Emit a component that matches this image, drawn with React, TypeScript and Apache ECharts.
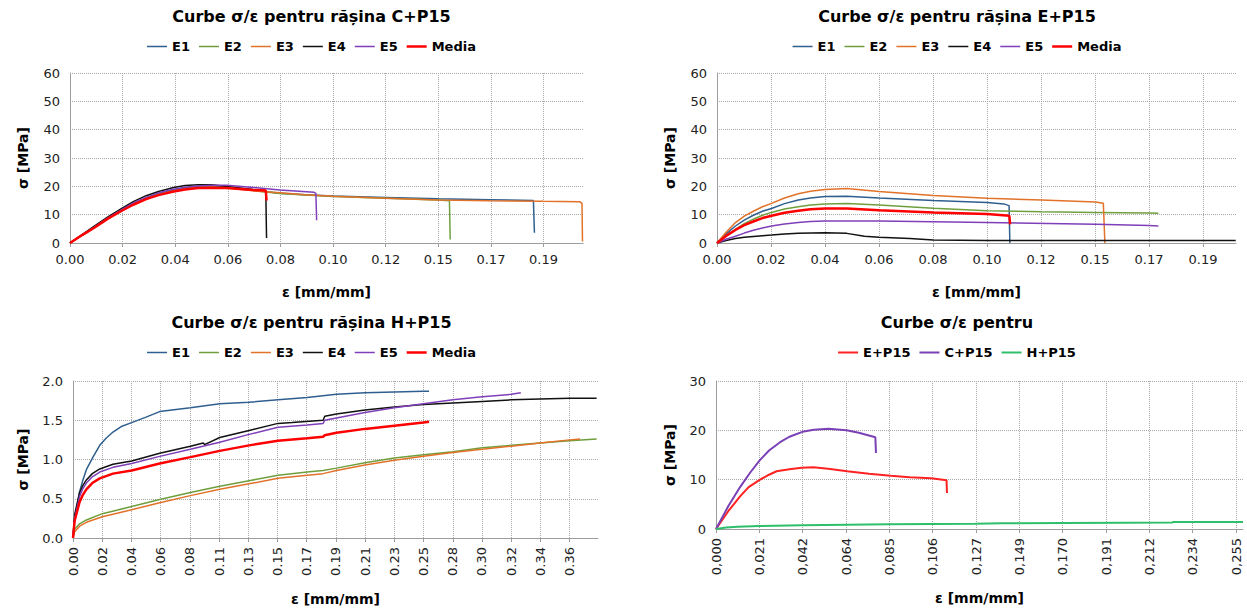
import React, { useEffect, useRef } from "react";
import * as echarts from "echarts";

type Pt = [number, number];

// ---------- Panel 1: C+P15 ----------
const cE1: Pt[] = [[0,0],[0.0048,2.9],[0.0096,5.6],[0.015,8.8],[0.0203,11.6],[0.025,13.9],[0.0301,15.9],[0.035,17.4],[0.041,18.8],[0.0455,19.5],[0.0506,19.9],[0.056,20.0],[0.062,19.7],[0.0725,18.6],[0.083,17.6],[0.093,17.0],[0.104,16.6],[0.125,16.1],[0.1456,15.6],[0.166,15.3],[0.1832,15.0],[0.1836,3.6]];
const cE2: Pt[] = [[0,0],[0.0048,2.8],[0.0096,5.5],[0.015,8.7],[0.0203,11.5],[0.025,13.8],[0.0301,15.8],[0.035,17.2],[0.041,18.6],[0.0455,19.3],[0.0506,19.7],[0.056,19.8],[0.062,19.6],[0.0725,18.5],[0.083,17.5],[0.093,16.9],[0.104,16.4],[0.125,15.8],[0.1456,15.2],[0.1500,14.9],[0.1503,1.2]];
const cE3: Pt[] = [[0,0],[0.0048,2.8],[0.0096,5.4],[0.015,8.6],[0.0203,11.4],[0.025,13.6],[0.0301,15.6],[0.035,17.0],[0.041,18.4],[0.0455,19.1],[0.0506,19.6],[0.056,19.7],[0.062,19.4],[0.0725,18.4],[0.0832,17.7],[0.093,17.0],[0.104,16.5],[0.125,15.8],[0.1456,15.2],[0.166,14.9],[0.187,14.7],[0.2015,14.6],[0.2024,14.0],[0.2026,0.5]];
const cE4: Pt[] = [[0,0],[0.0048,3.0],[0.0096,6.0],[0.015,9.2],[0.0203,12.1],[0.025,14.6],[0.0301,16.7],[0.035,18.2],[0.041,19.6],[0.0455,20.3],[0.0506,20.6],[0.056,20.6],[0.062,19.9],[0.0725,18.9],[0.0774,18.5],[0.0777,1.8]];
const cE5: Pt[] = [[0,0],[0.0048,2.9],[0.0096,5.6],[0.015,8.9],[0.0203,11.7],[0.025,14.1],[0.0301,16.1],[0.035,17.7],[0.041,19.0],[0.0455,19.7],[0.0506,20.1],[0.056,20.4],[0.062,20.4],[0.0725,19.6],[0.083,18.7],[0.0965,17.9],[0.0972,17.5],[0.0975,8.0]];
const cMedia: Pt[] = [[0,0],[0.0048,2.8],[0.0096,5.4],[0.015,8.6],[0.0203,11.3],[0.025,13.5],[0.0301,15.5],[0.035,16.9],[0.041,18.2],[0.0455,18.9],[0.0506,19.4],[0.056,19.5],[0.062,19.4],[0.0725,18.7],[0.0774,18.5],[0.0777,15.0]];

// ---------- Panel 2: E+P15 ----------
const eE1: Pt[] = [[0,0],[0.0035,3.2],[0.0071,6.0],[0.0105,8.1],[0.014,9.8],[0.0175,11.2],[0.021,12.2],[0.026,13.9],[0.0313,15.2],[0.036,15.9],[0.0416,16.4],[0.050,16.5],[0.0624,15.9],[0.0833,15.0],[0.104,14.3],[0.1105,13.8],[0.1125,13.2],[0.1128,0]];
const eE2: Pt[] = [[0,0],[0.0035,2.6],[0.0071,4.8],[0.0105,6.8],[0.014,8.4],[0.0175,9.8],[0.021,10.8],[0.026,12.0],[0.0313,12.8],[0.036,13.4],[0.0416,13.8],[0.050,13.9],[0.0624,13.4],[0.0833,12.3],[0.104,11.4],[0.125,11.0],[0.1458,10.8],[0.1665,10.6],[0.170,10.5]];
const eE3: Pt[] = [[0,0],[0.0035,3.8],[0.0071,7.2],[0.0105,9.5],[0.014,11.2],[0.0175,12.8],[0.021,14.0],[0.026,15.9],[0.0313,17.4],[0.036,18.3],[0.0416,18.9],[0.050,19.2],[0.0624,18.2],[0.0833,16.8],[0.104,15.8],[0.125,15.2],[0.1458,14.5],[0.1488,14.0],[0.1494,0]];
const eE4: Pt[] = [[0,0],[0.0035,0.9],[0.0071,1.6],[0.0105,2.0],[0.014,2.3],[0.0175,2.6],[0.021,2.8],[0.026,3.2],[0.0313,3.4],[0.0416,3.6],[0.050,3.4],[0.0568,2.4],[0.0624,2.0],[0.0743,1.6],[0.0833,1.1],[0.104,0.9],[0.1458,0.9],[0.1998,0.9]];
const eE5: Pt[] = [[0,0],[0.0035,1.3],[0.0071,2.4],[0.0105,3.5],[0.014,4.5],[0.0175,5.3],[0.021,6.0],[0.026,6.7],[0.0313,7.2],[0.036,7.6],[0.0416,7.8],[0.0624,7.8],[0.104,7.2],[0.1458,6.6],[0.1665,6.2],[0.170,6.0]];
const eMedia: Pt[] = [[0,0],[0.0035,2.5],[0.0071,4.6],[0.0105,6.3],[0.014,7.6],[0.0175,8.8],[0.021,9.6],[0.026,10.7],[0.0313,11.4],[0.036,11.9],[0.0416,12.2],[0.050,12.2],[0.0624,11.6],[0.0833,10.8],[0.104,10.2],[0.1126,9.6],[0.1129,6.6]];

// ---------- Panel 3: H+P15 ----------
const hE1: Pt[] = [[0,0],[0.0008,0.2],[0.0024,0.36],[0.0048,0.59],[0.0072,0.74],[0.0097,0.87],[0.0145,1.03],[0.0194,1.18],[0.024,1.27],[0.029,1.35],[0.035,1.42],[0.0426,1.47],[0.053,1.54],[0.0629,1.61],[0.0852,1.66],[0.1065,1.71],[0.1278,1.73],[0.1488,1.76],[0.1699,1.79],[0.1912,1.83],[0.2119,1.85],[0.2332,1.86],[0.2543,1.87],[0.2584,1.87]];
const hE2: Pt[] = [[0,0],[0.0012,0.11],[0.0048,0.18],[0.0097,0.23],[0.0213,0.31],[0.0426,0.40],[0.0629,0.49],[0.0852,0.58],[0.1065,0.66],[0.1278,0.73],[0.1488,0.80],[0.1699,0.84],[0.1815,0.86],[0.1912,0.89],[0.2119,0.96],[0.2332,1.02],[0.2543,1.06],[0.2757,1.10],[0.297,1.15],[0.318,1.18],[0.339,1.21],[0.3604,1.24],[0.380,1.26]];
const hE3: Pt[] = [[0,0],[0.0012,0.08],[0.0048,0.15],[0.0097,0.20],[0.0213,0.27],[0.0426,0.36],[0.0629,0.45],[0.0852,0.54],[0.1065,0.62],[0.1278,0.69],[0.1488,0.76],[0.1699,0.80],[0.1815,0.82],[0.1912,0.86],[0.2119,0.93],[0.2332,0.99],[0.2543,1.04],[0.2757,1.09],[0.297,1.13],[0.318,1.17],[0.339,1.21],[0.3604,1.25],[0.368,1.26]];
const hE4: Pt[] = [[0,0],[0.0012,0.30],[0.0048,0.58],[0.0072,0.67],[0.0097,0.74],[0.014,0.82],[0.0194,0.88],[0.029,0.94],[0.0426,0.98],[0.0629,1.08],[0.0852,1.17],[0.0945,1.21],[0.0955,1.19],[0.1065,1.28],[0.1278,1.37],[0.1488,1.46],[0.159,1.47],[0.1815,1.50],[0.1827,1.55],[0.1912,1.58],[0.2119,1.63],[0.2332,1.67],[0.2543,1.70],[0.2757,1.72],[0.297,1.74],[0.318,1.76],[0.339,1.77],[0.3604,1.78],[0.380,1.78]];
const hE5: Pt[] = [[0,0],[0.0012,0.25],[0.0048,0.53],[0.0072,0.63],[0.0097,0.70],[0.014,0.78],[0.0194,0.84],[0.029,0.90],[0.0426,0.95],[0.0629,1.04],[0.0852,1.13],[0.1065,1.22],[0.1278,1.32],[0.1488,1.41],[0.1699,1.44],[0.1815,1.46],[0.1827,1.50],[0.1912,1.53],[0.2119,1.60],[0.2332,1.66],[0.2543,1.71],[0.2757,1.76],[0.297,1.80],[0.318,1.83],[0.325,1.85]];
const hMedia: Pt[] = [[0,0],[0.0012,0.22],[0.0048,0.46],[0.0072,0.55],[0.0097,0.62],[0.014,0.70],[0.0194,0.76],[0.029,0.82],[0.0426,0.86],[0.0629,0.95],[0.0852,1.03],[0.1065,1.11],[0.1278,1.18],[0.1488,1.24],[0.1699,1.27],[0.1815,1.29],[0.1827,1.31],[0.1912,1.34],[0.2119,1.39],[0.2332,1.43],[0.2543,1.47],[0.2584,1.48]];

// ---------- Panel 4: comparison ----------
const cmpE: Pt[] = [[0,0],[0.006,3.6],[0.0118,6.6],[0.016,8.5],[0.0216,10.0],[0.026,11.0],[0.0297,11.7],[0.036,12.1],[0.042,12.4],[0.0477,12.5],[0.055,12.2],[0.0643,11.7],[0.075,11.2],[0.0856,10.8],[0.095,10.5],[0.1055,10.3],[0.113,9.9],[0.1132,7.3]];
const cmpC: Pt[] = [[0,0],[0.006,4.6],[0.0118,8.5],[0.0167,11.4],[0.0216,14.0],[0.026,15.9],[0.0314,17.6],[0.036,18.7],[0.0423,19.7],[0.048,20.1],[0.0551,20.3],[0.064,20.0],[0.070,19.5],[0.0781,18.6],[0.0784,15.4]];
const cmpH: Pt[] = [[0,0],[0.005,0.3],[0.0106,0.45],[0.0212,0.6],[0.042,0.75],[0.064,0.85],[0.085,0.95],[0.106,1.0],[0.127,1.05],[0.14,1.15],[0.17,1.2],[0.2,1.25],[0.2237,1.3],[0.224,1.4],[0.2583,1.4]];

// ---------- labels ----------
const seriesNames = ["E1", "E2", "E3", "E4", "E5", "Media"];
const cmpNames = ["E+P15", "C+P15", "H+P15"];
const titles = [
  "Curbe σ/ε pentru rășina C+P15",
  "Curbe σ/ε pentru rășina E+P15",
  "Curbe σ/ε pentru rășina H+P15",
  "Curbe σ/ε pentru",
];
const xTitle = "ε [mm/mm]";
const yTitle = "σ [MPa]";

const COLORS = ["#2f5f8f", "#6f9f3d", "#e2722a", "#111111", "#7f3fb8", "#ff0000"];
const CMP_COLORS = ["#ff2222", "#7a40b5", "#2fbf6a"];

const FONT = "DejaVu Sans";

const lineIcon = (w: number) => `path://M0,0h20v${w}h-20z`;

function makeOption(cfg: any) {
  const {
    title, names, data, colors, widths, grid, xMax, xInterval, xFmt, xRotate,
    yMax, yInterval, yFmt, xNameGap, yNameGap,
  } = cfg;
  return {
    animation: false,
    backgroundColor: "transparent",
    title: {
      text: title,
      left: "center",
      top: 8,
      padding: 0,
      textStyle: { fontFamily: FONT, fontSize: 16, fontWeight: "bold", color: "#000" },
    },
    legend: {
      data: names.map((n: string, i: number) => ({ name: n, icon: lineIcon(widths[i]) })),
      left: "center",
      top: 40,
      padding: 0,
      itemWidth: 20,
      itemHeight: 10,
      itemGap: 9,
      textStyle: { fontFamily: FONT, fontSize: 13, fontWeight: "bold", color: "#000" },
    },
    grid: { ...grid, containLabel: false },
    xAxis: {
      type: "value",
      min: 0,
      max: xMax,
      interval: xInterval,
      name: xTitle,
      nameLocation: "middle",
      nameGap: xNameGap,
      nameTextStyle: { fontFamily: FONT, fontSize: 14, fontWeight: "bold", color: "#000" },
      axisLine: { show: true, lineStyle: { color: "#9d9d9d", width: 1 } },
      axisTick: { show: true, length: 4, lineStyle: { color: "#9d9d9d" } },
      axisLabel: {
        formatter: xFmt,
        fontFamily: FONT,
        fontSize: 13,
        color: "#222",
        margin: xRotate ? 9 : 10,
        rotate: xRotate,
        showMaxLabel: false,
      },
      splitLine: { show: true, showMaxLine: false, lineStyle: { type: [1, 1], color: "#a8a8a8", width: 1 } },
    },
    yAxis: {
      type: "value",
      min: 0,
      max: yMax,
      interval: yInterval,
      name: yTitle,
      nameLocation: "middle",
      nameRotate: 90,
      nameGap: yNameGap,
      nameTextStyle: { fontFamily: FONT, fontSize: 14, fontWeight: "bold", color: "#000" },
      axisLine: { show: true, lineStyle: { color: "#9d9d9d", width: 1 } },
      axisTick: { show: false },
      axisLabel: { formatter: yFmt, fontFamily: FONT, fontSize: 13, color: "#222", margin: 10 },
      splitLine: { show: true, lineStyle: { type: [1, 1], color: "#a8a8a8", width: 1 } },
    },
    series: names.map((n: string, i: number) => ({
      name: n,
      type: "line",
      data: data[i],
      symbol: "none",
      showSymbol: false,
      clip: true,
      color: colors[i],
      lineStyle: { color: colors[i], width: widths[i] },
      itemStyle: { color: colors[i] },
    })),
  };
}

const f2 = (v: number) => v.toFixed(2);
const f1 = (v: number) => v.toFixed(1);
const f3c = (v: number) => v.toFixed(3).replace(".", ",");
const fi = (v: number) => String(Math.round(v));

const W6 = [1.5, 1.5, 1.5, 1.5, 1.5, 2.5];

const panels = [
  {
    box: { left: 0, top: 0, width: 623, height: 306 },
    opt: {
      title: titles[0], names: seriesNames, data: [cE1, cE2, cE3, cE4, cE5, cMedia], colors: COLORS, widths: W6,
      grid: { left: 70, top: 73, width: 513, height: 170 },
      xMax: 0.2028, xInterval: 0.0208, xFmt: f2, xRotate: 0, yMax: 60, yInterval: 10, yFmt: fi,
      xNameGap: 42, yNameGap: 40,
    },
  },
  {
    box: { left: 627, top: 0, width: 660, height: 306 },
    opt: {
      title: titles[1], names: seriesNames, data: [eE1, eE2, eE3, eE4, eE5, eMedia], colors: COLORS, widths: W6,
      grid: { left: 90, top: 73, width: 519, height: 170 },
      xMax: 0.1999, xInterval: 0.0208, xFmt: f2, xRotate: 0, yMax: 60, yInterval: 10, yFmt: fi,
      xNameGap: 42, yNameGap: 40,
    },
  },
  {
    box: { left: 0, top: 306, width: 623, height: 306 },
    opt: {
      title: titles[2], names: seriesNames, data: [hE1, hE2, hE3, hE4, hE5, hMedia], colors: COLORS, widths: W6,
      grid: { left: 73, top: 75, width: 525, height: 157 },
      xMax: 0.381, xInterval: 0.0212, xFmt: f2, xRotate: 90, yMax: 2, yInterval: 0.5, yFmt: f1,
      xNameGap: 54, yNameGap: 43,
    },
  },
  {
    box: { left: 627, top: 306, width: 660, height: 306 },
    opt: {
      title: titles[3], names: cmpNames, data: [cmpE, cmpC, cmpH], colors: CMP_COLORS, widths: [2, 2, 2],
      grid: { left: 89, top: 75, width: 527, height: 148 },
      xMax: 0.2583, xInterval: 0.02124, xFmt: f3c, xRotate: 90, yMax: 30, yInterval: 10, yFmt: fi,
      xNameGap: 62, yNameGap: 39,
    },
  },
];

function Panel({ box, opt }: { box: any; opt: any }) {
  const ref = useRef<HTMLDivElement>(null);
  useEffect(() => {
    if (!ref.current) return;
    const chart = echarts.init(ref.current, undefined, { renderer: "svg" });
    chart.setOption(makeOption(opt) as any);
    return () => chart.dispose();
  }, []);
  return (
    <div
      ref={ref}
      style={{ position: "absolute", left: box.left, top: box.top, width: box.width, height: box.height }}
    />
  );
}

export default function App() {
  return (
    <div
      style={{
        position: "absolute",
        left: 0,
        top: 0,
        width: 1247,
        height: 612,
        overflow: "hidden",
        background: "#fff",
      }}
    >
      {panels.map((p, i) => (
        <Panel key={i} box={p.box} opt={p.opt} />
      ))}
    </div>
  );
}
